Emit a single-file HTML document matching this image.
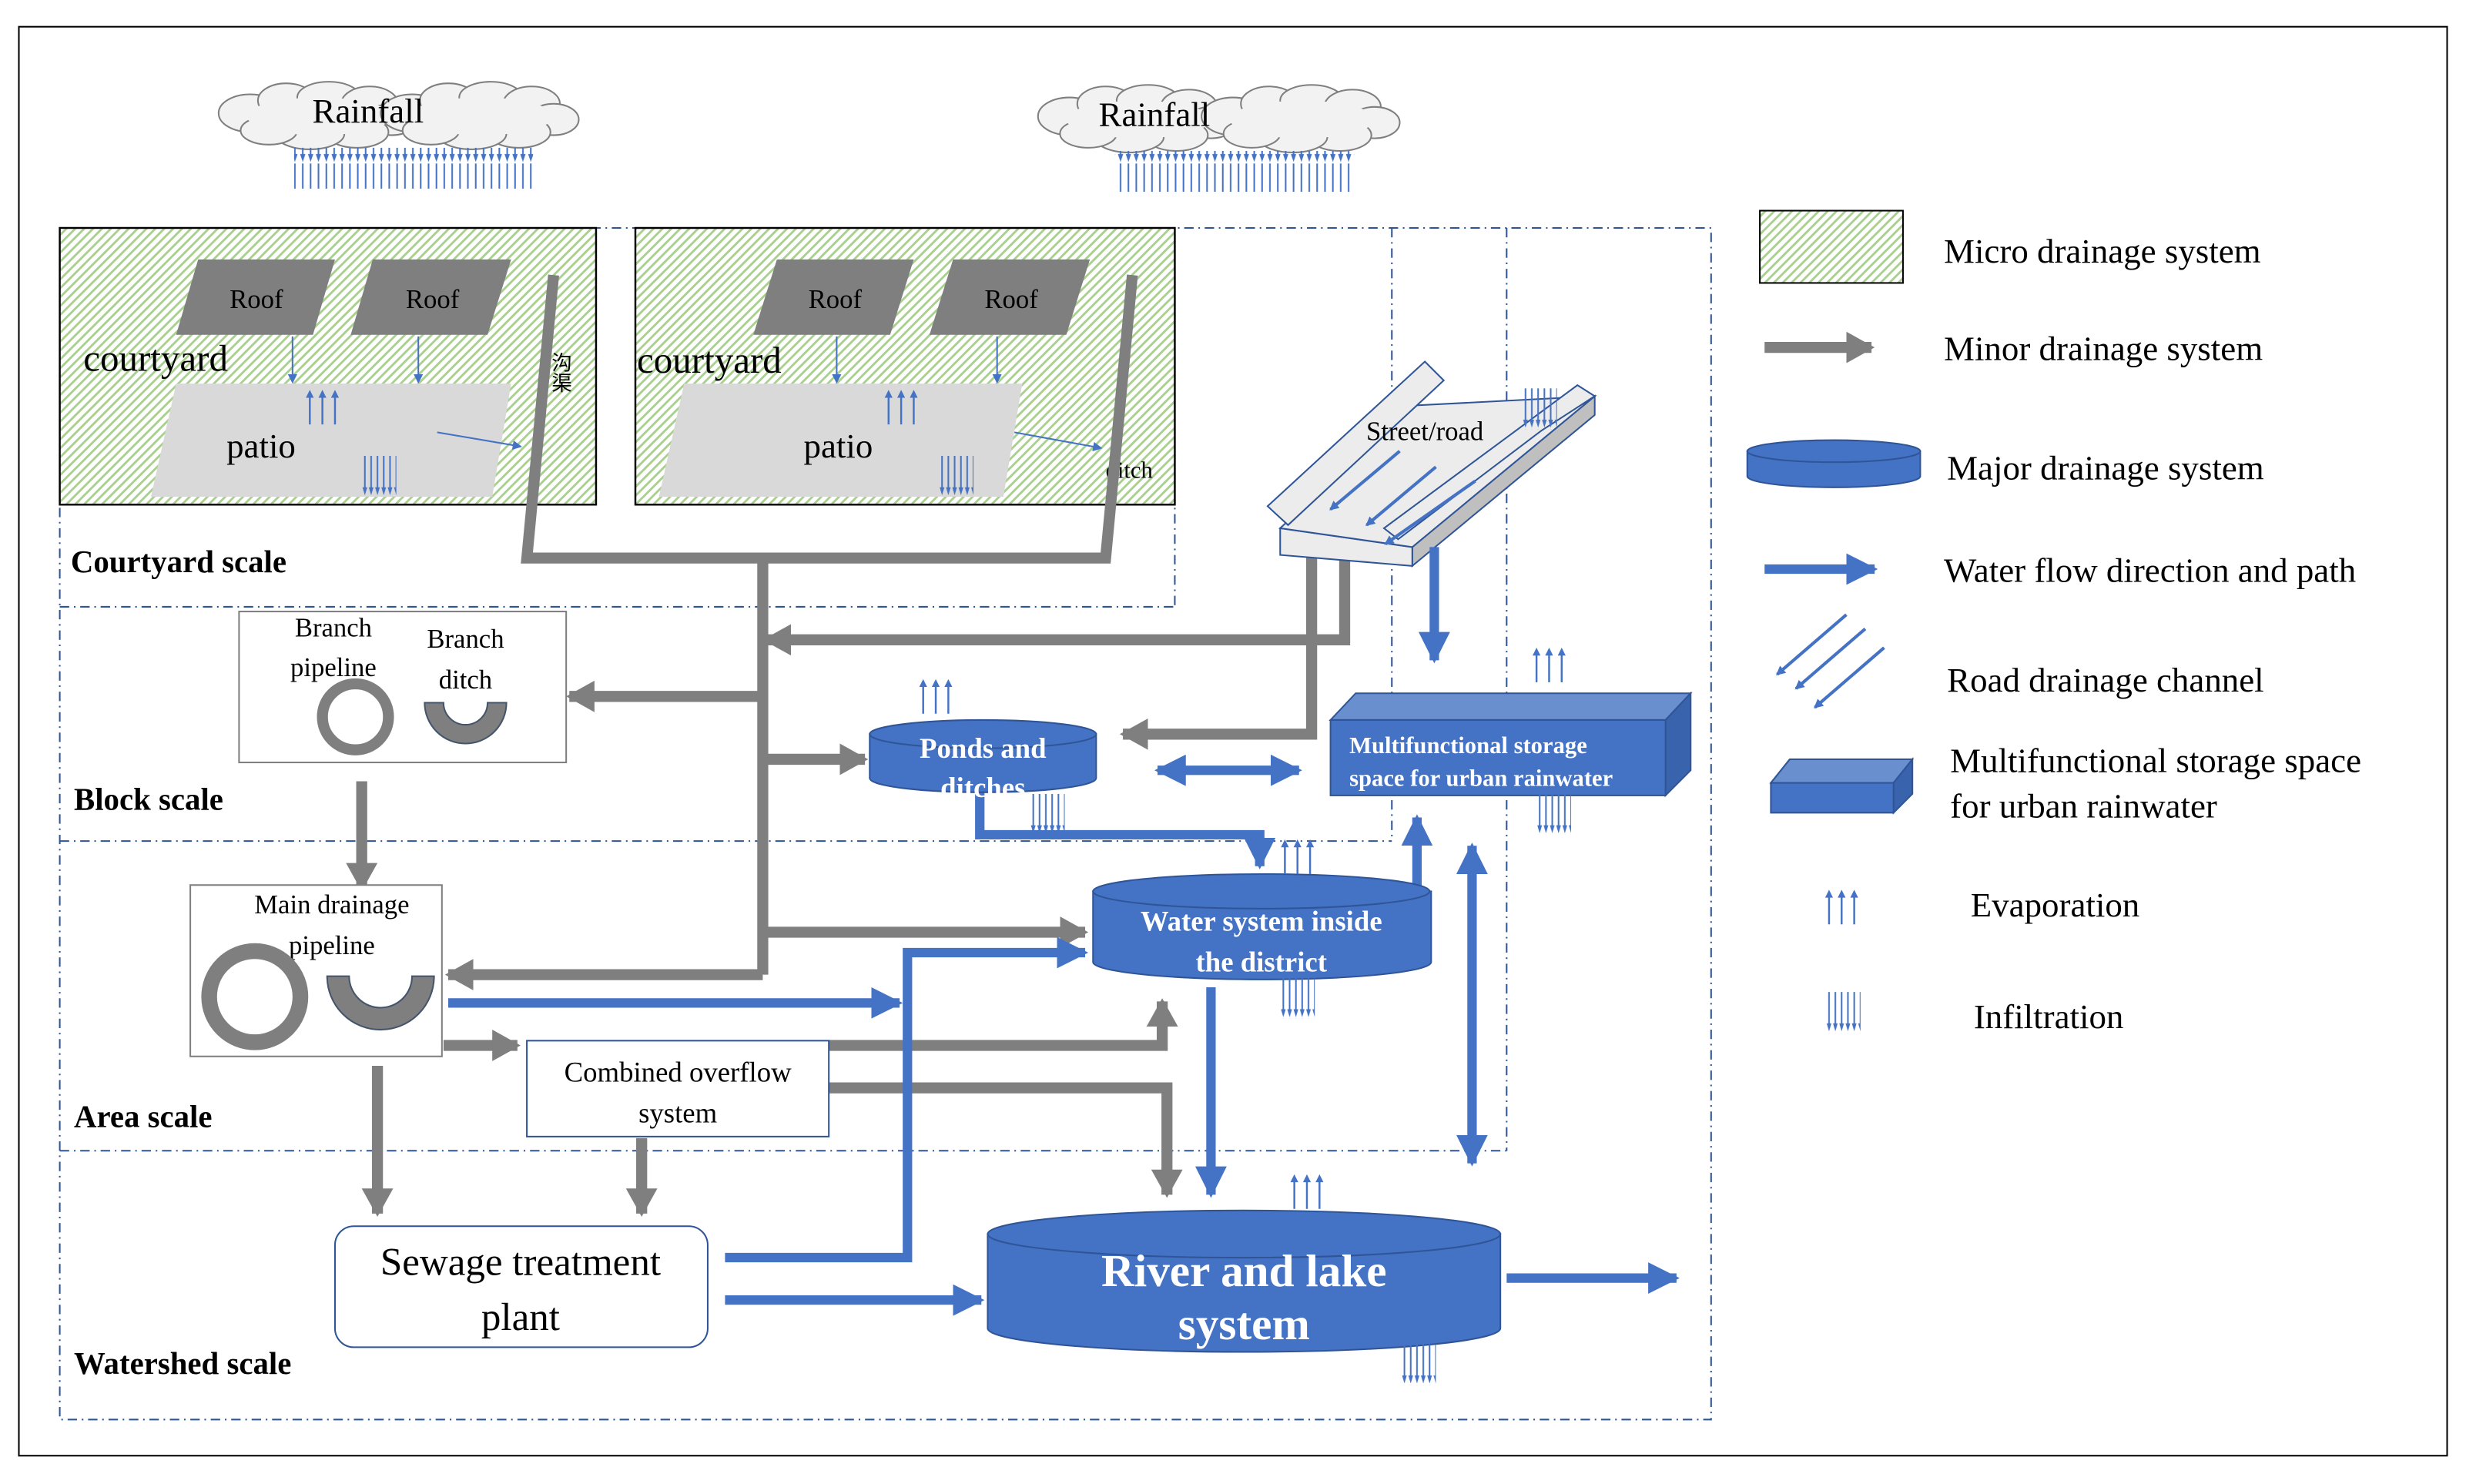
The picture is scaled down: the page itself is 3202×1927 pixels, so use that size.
<!DOCTYPE html>
<html><head><meta charset="utf-8"><style>
html,body{margin:0;padding:0;background:#fff;}
svg{display:block;}
text{font-family:"Liberation Serif",serif;}
</style></head><body>
<svg width="3202" height="1927" viewBox="0 0 1568 944" preserveAspectRatio="none" xmlns="http://www.w3.org/2000/svg">
<defs>
<pattern id="hatch" width="4" height="4" patternUnits="userSpaceOnUse" patternTransform="rotate(45)">
<rect width="4" height="4" fill="#fff"/><rect width="1.4" height="4" fill="#a9d08e"/>
</pattern>
<pattern id="rain" width="5" height="26" patternUnits="userSpaceOnUse">
<line x1="2.5" y1="0" x2="2.5" y2="22" stroke="#4472c4" stroke-width="1"/><path d="M0.8,20 L4.2,20 L2.5,25 Z" fill="#4472c4"/>
</pattern>
<pattern id="inf" width="4" height="26" patternUnits="userSpaceOnUse">
<line x1="2" y1="0" x2="2" y2="22" stroke="#4472c4" stroke-width="1"/><path d="M0.5,20 L3.5,20 L2,25 Z" fill="#4472c4"/>
</pattern>
<marker id="ga" markerUnits="userSpaceOnUse" markerWidth="24" markerHeight="24" refX="16" refY="10" orient="auto"><path d="M0,0 L18,10 L0,20 Z" fill="#7f7f7f"/></marker>
<marker id="ba" markerUnits="userSpaceOnUse" markerWidth="26" markerHeight="26" refX="18" refY="10" orient="auto"><path d="M0,0 L20,10 L0,20 Z" fill="#4472c4"/></marker>
<marker id="bs" markerUnits="userSpaceOnUse" markerWidth="26" markerHeight="26" refX="2" refY="10" orient="auto"><path d="M20,0 L0,10 L20,20 Z" fill="#4472c4"/></marker>
<marker id="sa" markerUnits="userSpaceOnUse" markerWidth="8" markerHeight="8" refX="5" refY="3" orient="auto"><path d="M0,0 L6,3 L0,6 Z" fill="#4472c4"/></marker>
<g id="evap" stroke="#4472c4" stroke-width="1.2" fill="#4472c4">
<line x1="0" y1="22" x2="0" y2="3"/><line x1="8" y1="22" x2="8" y2="3"/><line x1="16" y1="22" x2="16" y2="3"/>
<path d="M-2.5,5 L0,0 L2.5,5Z M5.5,5 L8,0 L10.5,5Z M13.5,5 L16,0 L18.5,5Z" stroke="none"/>
</g>
<rect id="infl" width="22" height="26" fill="url(#inf)"/>
<g id="cloud" fill="#f2f2f2" stroke="#7f7f7f" stroke-width="1">
<ellipse cx="22" cy="20" rx="20" ry="12"/><ellipse cx="45" cy="12" rx="18" ry="11"/><ellipse cx="72" cy="10" rx="20" ry="10"/>
<ellipse cx="98" cy="14" rx="18" ry="11"/><ellipse cx="112" cy="24" rx="16" ry="10"/><ellipse cx="90" cy="32" rx="20" ry="10"/>
<ellipse cx="60" cy="33" rx="22" ry="10"/><ellipse cx="34" cy="31" rx="18" ry="9"/>
<ellipse cx="66" cy="22" rx="46" ry="12" stroke="none"/>
</g>
</defs>

<rect x="12" y="17" width="1544" height="909" fill="none" stroke="#000" stroke-width="1"/>

<g fill="none" stroke="#2f5597" stroke-width="1" stroke-dasharray="6,3,1,3">
<rect x="38" y="145" width="1050" height="758"/>
<line x1="38" y1="386" x2="747" y2="386"/><line x1="747" y1="145" x2="747" y2="386"/>
<line x1="38" y1="535" x2="885" y2="535"/><line x1="885" y1="145" x2="885" y2="535"/>
<line x1="38" y1="732" x2="958" y2="732"/><line x1="958" y1="145" x2="958" y2="732"/>
</g>

<use href="#cloud" x="137" y="52"/><use href="#cloud" x="240" y="52"/>
<use href="#cloud" x="658" y="54"/><use href="#cloud" x="762" y="54"/>
<text x="234" y="78" font-size="22" text-anchor="middle">Rainfall</text>
<text x="734" y="80" font-size="22" text-anchor="middle">Rainfall</text>
<rect x="187" y="94" width="152" height="26" fill="url(#rain)"/>
<rect x="709" y="96" width="152" height="26" fill="url(#rain)"/>

<rect x="38" y="145" width="341" height="176" fill="url(#hatch)" stroke="#000" stroke-width="1.2"/>
<rect x="404" y="145" width="343" height="176" fill="url(#hatch)" stroke="#000" stroke-width="1.2"/>
<g fill="#7f7f7f">
<path d="M126,165 L213,165 L199,213 L112,213Z"/><path d="M237,165 L325,165 L310,213 L223,213Z"/>
<path d="M494,165 L581,165 L566,213 L479,213Z"/><path d="M606,165 L693,165 L678,213 L591,213Z"/>
</g>
<g fill="#d9d9d9">
<path d="M112,244 L325,244 L313,316 L96,316Z"/><path d="M435,244 L650,244 L638,316 L419,316Z"/>
</g>
<g font-family="Liberation Sans" font-size="17" fill="#000" text-anchor="middle">
<text x="163" y="196">Roof</text><text x="275" y="196">Roof</text><text x="531" y="196">Roof</text><text x="643" y="196">Roof</text>
</g>
<text x="53" y="236" font-size="24">courtyard</text>
<text x="405" y="237" font-size="24">courtyard</text>
<text x="166" y="291" font-size="22" text-anchor="middle" font-family="Liberation Sans">patio</text>
<text x="533" y="291" font-size="22" text-anchor="middle" font-family="Liberation Sans">patio</text>
<text x="703" y="304" font-size="15">ditch</text>
<text x="356" y="224" font-size="13" font-family="Liberation Sans,Noto Sans CJK SC,sans-serif" writing-mode="tb">沟渠</text>
<g stroke="#4472c4" stroke-width="1" marker-end="url(#sa)">
<line x1="186" y1="214" x2="186" y2="243"/><line x1="266" y1="214" x2="266" y2="243"/>
<line x1="532" y1="214" x2="532" y2="243"/><line x1="634" y1="214" x2="634" y2="243"/>
<line x1="278" y1="275" x2="331" y2="284"/><line x1="645" y1="275" x2="700" y2="285"/>
</g>
<use href="#evap" x="197" y="248"/><use href="#evap" x="565" y="248"/>
<use href="#infl" x="230" y="290"/><use href="#infl" x="597" y="290"/>

<g fill="none" stroke="#7f7f7f" stroke-width="7">
<path d="M352,175 L335,355 L703,355 L720,175"/>
<path d="M485,355 L485,620"/>
</g>
<g fill="none" stroke="#7f7f7f" stroke-width="7" marker-end="url(#ga)">
<path d="M485,443 L362,443"/>
<path d="M485,483 L550,483"/>
<path d="M485,593 L690,593"/>
<path d="M485,620 L285,620"/>
<path d="M855,352 L855,407 L487,407"/>
<path d="M834,352 L834,467 L714,467"/>
<path d="M230,497 L230,565"/>
<path d="M240,678 L240,772"/>
<path d="M282,665 L329,665"/>
<path d="M408,724 L408,772"/>
<path d="M527,665 L739,665 L739,637"/>
<path d="M527,692 L742,692 L742,760"/>
</g>
<text x="45" y="364" font-size="20" font-weight="bold">Courtyard scale</text>
<text x="47" y="515" font-size="20" font-weight="bold">Block scale</text>
<text x="47" y="717" font-size="20" font-weight="bold">Area scale</text>
<text x="47" y="874" font-size="20" font-weight="bold">Watershed scale</text>

<g stroke="#2f5597" stroke-width="1">
<path d="M898,360 L1014,264 L1014,252 L898,348Z" fill="#bfbfbf"/>
<path d="M814,336 L898,348 L898,360 L814,353Z" fill="#ececec"/>
<path d="M814,336 L898,258 L1014,252 L898,348Z" fill="#ececec"/>
<path d="M806,322 L906,230 L918,242 L819,334Z" fill="#ececec"/>
<path d="M889,343 L980,274 L1014,252 L1003,245 L880,336Z" fill="#ececec"/>
</g>
<text x="906" y="280" font-size="17" text-anchor="middle">Street/road</text>
<g stroke="#4472c4" stroke-width="2" marker-end="url(#sa)">
<line x1="890" y1="287" x2="846" y2="324"/><line x1="913" y1="297" x2="869" y2="334"/><line x1="938" y1="306" x2="881" y2="346"/>
</g>
<use href="#infl" x="968" y="247"/>
<g stroke="#4472c4" stroke-width="6" fill="none">
<path d="M912,348 L912,420" marker-end="url(#ba)"/>
<path d="M285,638 L572,638" marker-end="url(#ba)"/>
<path d="M461,800 L577,800 L577,606 L690,606" marker-end="url(#ba)"/>
<path d="M461,827 L624,827" marker-end="url(#ba)"/>
<path d="M958,813 L1066,813" marker-end="url(#ba)"/>
<path d="M623,503 L623,531 L801,531 L801,551" marker-end="url(#ba)"/>
<path d="M770,628 L770,760" marker-end="url(#ba)"/>
<path d="M901,567 L901,520" marker-end="url(#ba)"/>
<path d="M736,490 L826,490" marker-end="url(#ba)" marker-start="url(#bs)"/>
<path d="M936,538 L936,740" marker-end="url(#ba)" marker-start="url(#bs)"/>
</g>

<rect x="152" y="389" width="208" height="96" fill="#fff" stroke="#7f7f7f" stroke-width="1"/>
<text x="212" y="405" font-size="17" text-anchor="middle">Branch</text>
<text x="212" y="430" font-size="17" text-anchor="middle">pipeline</text>
<text x="296" y="412" font-size="17" text-anchor="middle">Branch</text>
<text x="296" y="438" font-size="17" text-anchor="middle">ditch</text>
<circle cx="226" cy="456" r="21" fill="none" stroke="#7f7f7f" stroke-width="7"/>
<path d="M270,447 A26,26 0 0 0 322,447 L310,447 A14,14 0 0 1 282,447Z" fill="#7f7f7f" stroke="#44546a" stroke-width="1"/>

<rect x="121" y="563" width="160" height="109" fill="#fff" stroke="#7f7f7f" stroke-width="1"/>
<text x="211" y="581" font-size="17" text-anchor="middle">Main drainage</text>
<text x="211" y="607" font-size="17" text-anchor="middle">pipeline</text>
<circle cx="162" cy="634" r="29" fill="none" stroke="#7f7f7f" stroke-width="10"/>
<path d="M208,621 A34,34 0 0 0 276,621 L262,621 A20,20 0 0 1 222,621Z" fill="#7f7f7f" stroke="#44546a" stroke-width="1"/>

<rect x="335" y="662" width="192" height="61" fill="#fff" stroke="#2f5597" stroke-width="1"/>
<text x="431" y="688" font-size="18" text-anchor="middle">Combined overflow</text>
<text x="431" y="714" font-size="18" text-anchor="middle">system</text>

<rect x="213" y="780" width="237" height="77" rx="12" fill="#fff" stroke="#2f5597" stroke-width="1"/>
<text x="331" y="811" font-size="25" text-anchor="middle">Sewage treatment</text>
<text x="331" y="846" font-size="25" text-anchor="middle">plant</text>

<g fill="#4472c4" stroke="#2f5597" stroke-width="1">
<path d="M553,467 L553,495 A72,9 0 0 0 697,495 L697,467Z"/><ellipse cx="625" cy="467" rx="72" ry="9"/>
<path d="M695,567 L695,612 A107,11 0 0 0 910,612 L910,567Z"/><ellipse cx="802" cy="567" rx="107" ry="11"/>
<path d="M628,785 L628,845 A163,15 0 0 0 954,845 L954,785Z"/><ellipse cx="791" cy="785" rx="163" ry="15"/>
</g>
<text x="625" y="482" font-size="18" fill="#fff" font-weight="bold" text-anchor="middle">Ponds and</text>
<text x="625" y="507" font-size="18" fill="#fff" font-weight="bold" text-anchor="middle">ditches</text>
<text x="802" y="592" font-size="18" fill="#fff" font-weight="bold" text-anchor="middle">Water system inside</text>
<text x="802" y="618" font-size="18" fill="#fff" font-weight="bold" text-anchor="middle">the district</text>
<text x="791" y="818" font-size="29" fill="#fff" font-weight="bold" text-anchor="middle" font-family="Liberation Sans">River and lake</text>
<text x="791" y="852" font-size="29" fill="#fff" font-weight="bold" text-anchor="middle" font-family="Liberation Sans">system</text>

<path d="M846,458 L862,441 L1075,441 L1059,458Z" fill="#6a8fce" stroke="#2f5597"/>
<path d="M1059,458 L1075,441 L1075,490 L1059,506Z" fill="#3a63ad" stroke="#2f5597"/>
<rect x="846" y="458" width="213" height="48" fill="#4472c4" stroke="#2f5597"/>
<text x="858" y="479" font-size="15" fill="#fff" font-weight="bold">Multifunctional storage</text>
<text x="858" y="500" font-size="15" fill="#fff" font-weight="bold">space for urban rainwater</text>

<use href="#evap" x="587" y="432"/><use href="#infl" x="655" y="505"/>
<use href="#evap" x="817" y="534"/><use href="#infl" x="814" y="622"/>
<use href="#evap" x="977" y="412"/><use href="#infl" x="977" y="505"/>
<use href="#evap" x="823" y="747"/><use href="#infl" x="891" y="855"/>

<rect x="1119" y="134" width="91" height="46" fill="url(#hatch)" stroke="#000" stroke-width="1"/>
<text x="1236" y="167" font-size="22">Micro drainage system</text>
<path d="M1122,221 L1190,221" stroke="#7f7f7f" stroke-width="7" marker-end="url(#ga)"/>
<text x="1236" y="229" font-size="22">Minor drainage system</text>
<path d="M1111,287 L1111,303 A55,7 0 0 0 1221,303 L1221,287Z" fill="#4472c4" stroke="#2f5597"/>
<ellipse cx="1166" cy="287" rx="55" ry="7" fill="#4472c4" stroke="#2f5597"/>
<text x="1238" y="305" font-size="22">Major drainage system</text>
<path d="M1122,362 L1192,362" stroke="#4472c4" stroke-width="6" marker-end="url(#ba)"/>
<text x="1236" y="370" font-size="22">Water flow direction and path</text>
<g stroke="#4472c4" stroke-width="2" marker-end="url(#sa)">
<line x1="1174" y1="391" x2="1130" y2="429"/><line x1="1186" y1="400" x2="1142" y2="438"/><line x1="1198" y1="412" x2="1154" y2="450"/>
</g>
<text x="1238" y="440" font-size="22">Road drainage channel</text>
<path d="M1126,498 L1138,483 L1216,483 L1204,498Z" fill="#6a8fce" stroke="#2f5597"/>
<path d="M1204,498 L1216,483 L1216,505 L1204,517Z" fill="#3a63ad" stroke="#2f5597"/>
<rect x="1126" y="498" width="78" height="19" fill="#4472c4" stroke="#2f5597"/>
<text x="1240" y="491" font-size="22">Multifunctional storage space</text>
<text x="1240" y="520" font-size="22">for urban rainwater</text>
<use href="#evap" x="1163" y="566"/>
<text x="1253" y="583" font-size="22">Evaporation</text>
<use href="#infl" x="1161" y="631"/>
<text x="1255" y="654" font-size="22">Infiltration</text>
</svg>
</body></html>
